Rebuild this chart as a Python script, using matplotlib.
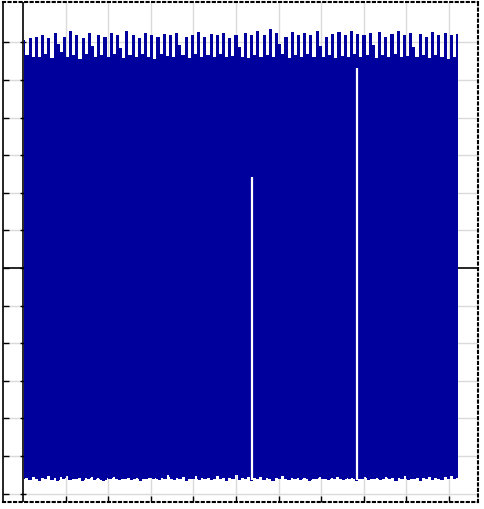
import numpy as np
import matplotlib
matplotlib.use("Agg")
from matplotlib import pyplot as plt

upper = [
    6.05, 5.65, 6.10, 5.60, 6.15, 5.62, 6.20, 5.70, 6.10, 5.58, 6.25, 5.95, 5.75, 6.15,
    5.60, 6.30, 5.65, 6.20, 5.55, 6.10, 5.70, 6.25, 5.90, 5.60, 6.20, 5.65, 6.15, 5.62,
    6.25, 5.70, 6.20, 5.85, 5.58, 6.30, 5.65, 6.20, 5.60, 6.10, 5.68, 6.25, 5.62, 6.20,
    5.55, 6.15, 5.70, 6.22, 5.64, 6.18, 5.60, 6.25, 5.92, 5.66, 6.15, 5.58, 6.20, 5.70,
    6.28, 5.62, 6.15, 5.65, 6.22, 5.60, 6.18, 5.68, 6.25, 5.60, 6.10, 5.64, 6.20, 5.88,
    5.62, 6.25, 5.58, 6.18, 5.66, 6.30, 5.60, 6.20, 5.65, 6.35, 5.62, 6.25, 5.95, 5.70,
    6.15, 5.58, 6.28, 5.65, 6.20, 5.60, 6.25, 5.68, 6.18, 5.62, 6.30, 5.90, 5.60, 6.15,
    5.66, 6.22, 5.58, 6.28, 5.64, 6.20, 5.60, 6.30, 5.70, 6.22, 5.62, 6.18, 5.65, 6.25,
    5.92, 5.58, 6.28, 5.66, 6.15, 5.60, 6.22, 5.68, 6.30, 5.62, 6.18, 5.64, 6.25, 5.88,
    5.60, 6.22, 5.66, 6.15, 5.58, 6.28, 5.65, 6.20, 5.62, 6.25, 5.55, 6.18, 5.60, 6.22,
]

# lower envelope of the signal (bottom edge, left to right)
lower = [
    -5.62, -5.58, -5.64, -5.55, -5.60, -5.66, -5.57, -5.62, -5.52, -5.63, -5.58, -5.65,
    -5.56, -5.61, -5.50, -5.64, -5.59, -5.62, -5.55, -5.67, -5.58, -5.60, -5.53, -5.63,
    -5.57, -5.61, -5.66, -5.56, -5.62, -5.51, -5.60, -5.64, -5.58, -5.62, -5.55, -5.63,
    -5.60, -5.57, -5.66, -5.59, -5.62, -5.54, -5.61, -5.58, -5.64, -5.56, -5.62, -5.45,
    -5.60, -5.63, -5.57, -5.62, -5.55, -5.66, -5.59, -5.61, -5.52, -5.63, -5.58, -5.62,
    -5.56, -5.64, -5.60, -5.53, -5.62, -5.58, -5.65, -5.57, -5.61, -5.50, -5.63, -5.59,
    -5.62, -5.56, -5.66, -5.58, -5.60, -5.54, -5.63, -5.57, -5.61, -5.65, -5.56, -5.62,
    -5.52, -5.60, -5.64, -5.58, -5.62, -5.55, -5.63, -5.59, -5.57, -5.66, -5.60, -5.62,
    -5.54, -5.61, -5.58, -5.64, -5.56, -5.62, -5.50, -5.60, -5.63, -5.57, -5.62, -5.55,
    -5.65, -5.59, -5.61, -5.52, -5.63, -5.58, -5.62, -5.56, -5.64, -5.60, -5.53, -5.62,
    -5.58, -5.65, -5.57, -5.61, -5.50, -5.63, -5.59, -5.62, -5.56, -5.66, -5.58, -5.60,
    -5.54, -5.63, -5.57, -5.61, -5.64, -5.56, -5.62, -5.52, -5.60, -5.58,
]

x_end = 10.2

# places where the signal leaves a gap (x, top of gap)
gap_x = [5.38, 7.84]
gap_top = [2.42, 5.32]

x_ticks = list(range(1, 11))
y_ticks = list(range(-6, 7))


def main():
    fig = plt.figure(figsize=(4.84, 5.09), dpi=100)
    ax = fig.add_axes([3 / 484, 7 / 509, 475 / 484, 500 / 509])

    # grid
    for xv in x_ticks:
        ax.axvline(xv, color="#dadada", lw=1.0, zorder=0)
    for yv in y_ticks:
        if yv != 0:
            ax.axhline(yv, color="#dadada", lw=1.0, zorder=0)

    # axes through the origin (hidden behind the signal)
    ax.axhline(0, color="black", lw=1.2, zorder=1)
    ax.axvline(0, color="black", lw=1.2, zorder=1)
    ax.plot([0] * len(y_ticks), y_ticks, ls="none", marker="_", ms=5,
            color="black", mew=1.0, zorder=1)

    blue = "#00009c"
    xu = np.linspace(0.02, x_end, len(upper))
    xl = np.linspace(0.02, x_end, len(lower))
    lo = np.interp(xu, xl, lower)
    ax.fill_between(xu, lo, upper, color=blue, lw=0, step="mid", zorder=2)
    ax.fill_between(xl, lower, -5.3, color=blue, lw=0, step="mid", zorder=2)

    # white gaps in the signal
    gap_bottom = np.interp(gap_x, xl, lower)
    ax.vlines(gap_x, gap_bottom, gap_top, color="white", lw=1.6, zorder=4)

    ax.set_xlim(-0.47, 10.68)
    ax.set_ylim(-6.22, 7.07)
    ax.set_xticks(x_ticks)
    ax.set_yticks(y_ticks)
    ax.tick_params(direction="in", length=4, width=1,
                   labelleft=False, labelbottom=False)

    for side in ["top", "right", "bottom"]:
        ax.spines[side].set_linestyle(":")
        ax.spines[side].set_linewidth(1.5)
    ax.spines["left"].set_linewidth(1.2)

    fig.savefig("out.png", dpi=100)
    plt.close(fig)


if __name__ == "__main__":
    main()
